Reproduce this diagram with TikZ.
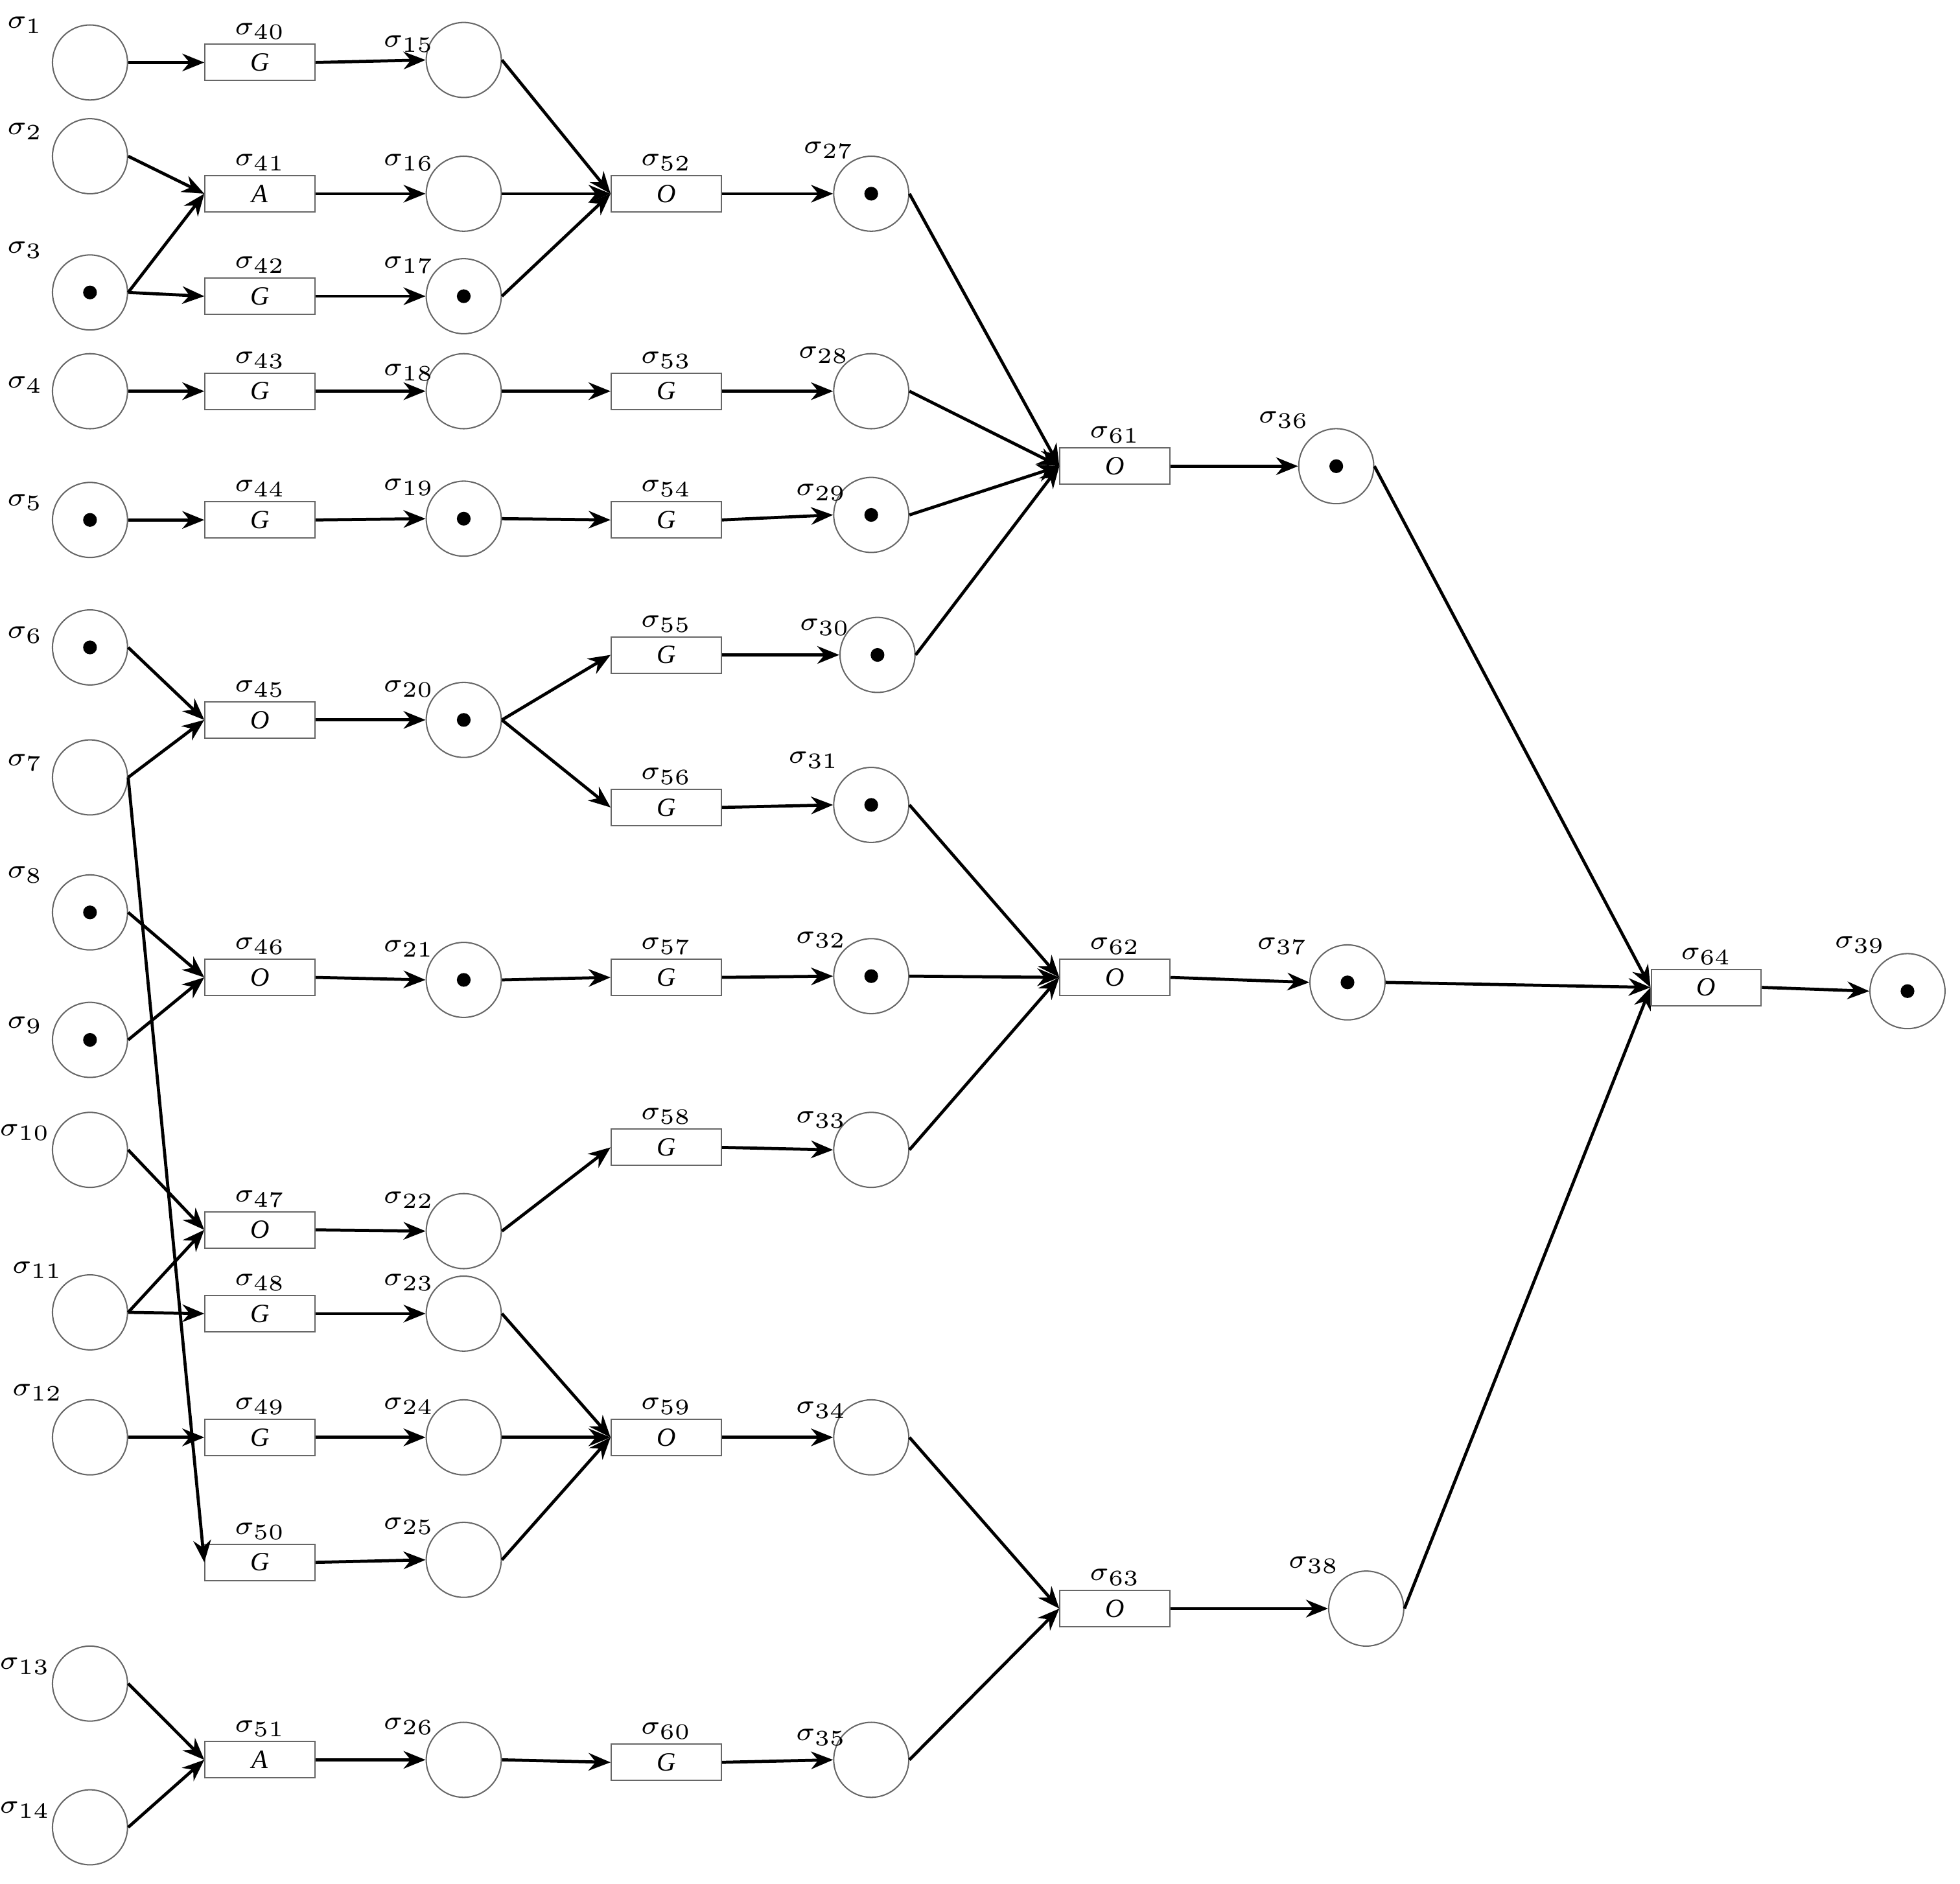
\documentclass[tikz,border=0pt]{standalone}
\usepackage{fontspec}
\setmainfont{Liberation Serif}
\usetikzlibrary{arrows.meta}
\begin{document}
\begin{tikzpicture}[x=0.01cm,y=-0.01cm,
 pl/.style={circle,draw=black!60,line width=0.3pt,minimum size=0.6cm,inner sep=0},
 tr/.style={rectangle,draw=black!60,line width=0.3pt,minimum width=0.88cm,minimum height=0.29cm,inner sep=0,font=\fontsize{6}{7}\selectfont\itshape},
 lb/.style={font=\fontsize{6}{7}\selectfont,inner sep=0},
 ar/.style={-{Stealth[length=5pt,width=4pt]},line width=0.7pt},
 tok/.style={circle,fill=black,minimum size=0.11cm,inner sep=0}]
\useasboundingbox (0,0) rectangle (1568,1507);
\newcommand{\Sg}[1]{$\sigma_{\scriptscriptstyle #1}$}
\newcommand{\Pl}[5]{\node[pl] (p#1) at (#2,#3) {}; \node[lb] at (#2+#4,#3+#5) {\Sg{#1}};}
\newcommand{\Tr}[4]{\node[tr] (t#1) at (#2,#3) {#4}; \node[lb] at (#2,#3-25) {\Sg{#1}};}
\newcommand{\Tk}[1]{\node[tok] at (p#1) {};}
\Pl{1}{72}{50}{-52}{-30}\Pl{2}{72}{125}{-52}{-20}\Pl{3}{72}{234}{-52}{-34}
\Pl{4}{72}{313}{-52}{-5}\Pl{5}{72}{416}{-52}{-14}\Pl{6}{72}{518}{-52}{-10}
\Pl{7}{72}{622}{-52}{-12}\Pl{8}{72}{730}{-52}{-30}\Pl{9}{72}{832}{-52}{-12}
\Pl{10}{72}{920}{-52}{-14}\Pl{11}{72}{1050}{-42}{-34}\Pl{12}{72}{1150}{-42}{-36}
\Pl{13}{72}{1347}{-52}{-14}\Pl{14}{72}{1462}{-52}{-14}
\Pl{15}{371}{48}{-44}{-13}\Pl{16}{371}{155}{-44}{-25}\Pl{17}{371}{237}{-44}{-25}
\Pl{18}{371}{313}{-44}{-15}\Pl{19}{371}{415}{-44}{-25}\Pl{20}{371}{576}{-44}{-25}
\Pl{21}{371}{784}{-44}{-25}\Pl{22}{371}{985}{-44}{-25}\Pl{23}{371}{1051}{-44}{-25}
\Pl{24}{371}{1150}{-44}{-25}\Pl{25}{371}{1248}{-44}{-27}\Pl{26}{371}{1408}{-44}{-27}
\Pl{27}{697}{155}{-34}{-35}\Pl{28}{697}{313}{-38}{-29}\Pl{29}{697}{412}{-40}{-18}
\Pl{30}{702}{524}{-42}{-22}\Pl{31}{697}{644}{-46}{-36}\Pl{32}{697}{781}{-40}{-29}
\Pl{33}{697}{920}{-40}{-24}\Pl{34}{697}{1150}{-40}{-22}\Pl{35}{697}{1408}{-40}{-18}
\Pl{36}{1069}{373}{-42}{-37}\Pl{37}{1078}{786}{-52}{-29}\Pl{38}{1093}{1287}{-42}{-35}
\Pl{39}{1526}{793}{-38}{-37}
\Tr{40}{208}{50}{G}\Tr{41}{208}{155}{A}\Tr{42}{208}{237}{G}\Tr{43}{208}{313}{G}
\Tr{44}{208}{416}{G}\Tr{45}{208}{576}{O}\Tr{46}{208}{782}{O}\Tr{47}{208}{984}{O}
\Tr{48}{208}{1051}{G}\Tr{49}{208}{1150}{G}\Tr{50}{208}{1250}{G}\Tr{51}{208}{1408}{A}
\Tr{52}{533}{155}{O}\Tr{53}{533}{313}{G}\Tr{54}{533}{416}{G}\Tr{55}{533}{524}{G}
\Tr{56}{533}{646}{G}\Tr{57}{533}{782}{G}\Tr{58}{533}{918}{G}\Tr{59}{533}{1150}{O}
\Tr{60}{533}{1410}{G}
\Tr{61}{892}{373}{O}\Tr{62}{892}{782}{O}\Tr{63}{892}{1287}{O}\Tr{64}{1365}{790}{O}
\Tk{3}\Tk{5}\Tk{6}\Tk{8}\Tk{9}\Tk{17}\Tk{19}\Tk{20}\Tk{21}\Tk{27}\Tk{29}\Tk{30}\Tk{31}\Tk{32}\Tk{36}\Tk{37}\Tk{39}
\foreach \a/\b in {p1/t40,p2/t41,p3/t41,p3/t42,p4/t43,p5/t44,p6/t45,p7/t45,p7/t50,p8/t46,p9/t46,
 p10/t47,p11/t47,p11/t48,p12/t49,p13/t51,p14/t51,
 t40/p15,t41/p16,t42/p17,t43/p18,t44/p19,t45/p20,t46/p21,t47/p22,t48/p23,t49/p24,t50/p25,t51/p26,
 p15/t52,p16/t52,p17/t52,p18/t53,p19/t54,p20/t55,p20/t56,p21/t57,p22/t58,p23/t59,p24/t59,p25/t59,p26/t60,
 t52/p27,t53/p28,t54/p29,t55/p30,t56/p31,t57/p32,t58/p33,t59/p34,t60/p35,
 p27/t61,p28/t61,p29/t61,p30/t61,p31/t62,p32/t62,p33/t62,p34/t63,p35/t63,
 t61/p36,t62/p37,t63/p38,p36/t64,p37/t64,p38/t64,t64/p39}
 \draw[ar] (\a.east) -- (\b.west);
\end{tikzpicture}
\end{document}
